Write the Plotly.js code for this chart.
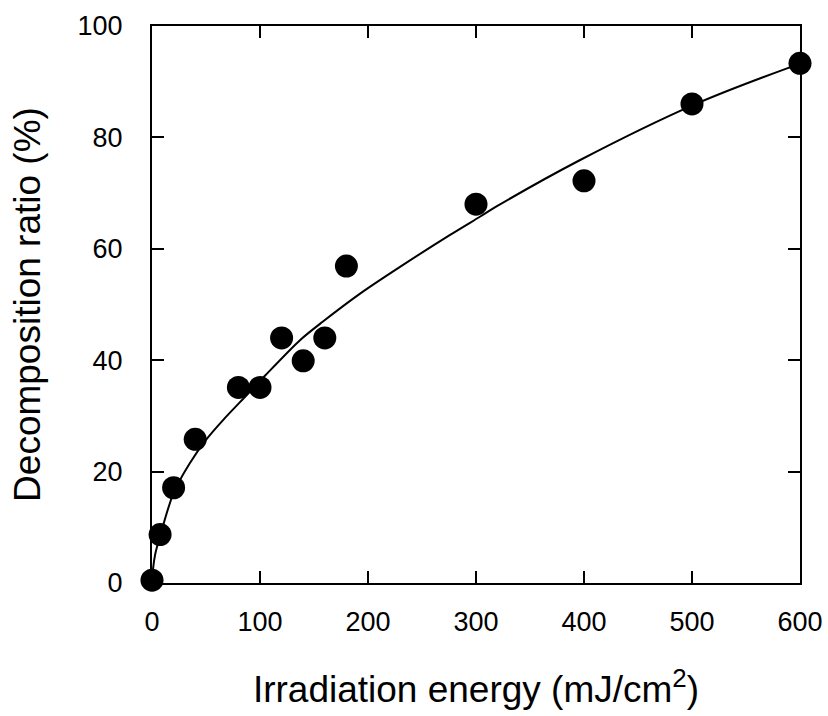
<!DOCTYPE html>
<html>
<head>
<meta charset="utf-8">
<script src="https://cdn.plot.ly/plotly-3.0.1.min.js"></script>
<style>
  html, body { margin: 0; padding: 0; background: #fff; }
  #chart { width: 828px; height: 716px; }
</style>
</head>
<body>
<div id="chart"></div>
<script>
// Measured data points
const energy = [0, 7.5, 20, 40, 80, 100, 120, 140, 160, 180, 300, 400, 500, 600];
const ratio  = [0.5, 8.7, 17.1, 25.8, 35.1, 35.1, 44.0, 39.9, 44.0, 56.9, 68.0, 72.2, 86.0, 93.3];

// Fitted curve
const fitX = [0, 1, 3, 8, 20, 35, 50, 66, 88, 105, 137, 158, 193, 230, 276, 304, 319, 396, 501, 588, 600];
const fitY = [0, 2.6, 5.2, 8.8, 16.2, 21.5, 25.7, 29.3, 33.8, 37.3, 43.6, 46.9, 52.0, 56.8, 62.5, 65.8, 67.6, 75.9, 85.8, 92.4, 93.2];

const xTicks = [0, 100, 200, 300, 400, 500, 600];
const yTicks = [0, 20, 40, 60, 80, 100];

const fontFam = '"Liberation Sans", Arial, Helvetica, sans-serif';

const traces = [
  {
    x: fitX, y: fitY, type: 'scatter', mode: 'lines',
    line: { color: '#000', width: 2, shape: 'spline', smoothing: 0.8 },
    hoverinfo: 'skip', cliponaxis: false
  },
  {
    x: energy, y: ratio, type: 'scatter', mode: 'markers',
    marker: { color: '#000', size: 23 },
    cliponaxis: false
  }
];

const axisCommon = {
  showgrid: false, zeroline: false,
  showline: true, linecolor: '#000', linewidth: 2,
  mirror: 'ticks', ticks: 'inside', ticklen: 12, tickwidth: 2, tickcolor: '#000',
  tickfont: { family: fontFam, size: 27, color: '#000' }
};

const layout = {
  width: 828, height: 716,
  margin: { l: 152, r: 28, t: 26, b: 133 },
  paper_bgcolor: '#fff', plot_bgcolor: '#fff',
  showlegend: false,
  font: { family: fontFam, color: '#000' },
  xaxis: Object.assign({}, axisCommon, {
    range: [0, 600], tickvals: xTicks, ticktext: xTicks.map(String),
    ticklabelstandoff: 14,
    title: { text: 'Irradiation energy (mJ/cm<sup>2</sup>)', font: { family: fontFam, size: 37, color: '#000' }, standoff: 40 }
  }),
  yaxis: Object.assign({}, axisCommon, {
    range: [0, 100], tickvals: yTicks, ticktext: yTicks.map(String),
    ticklabelstandoff: 22,
    title: { text: 'Decomposition ratio (%)', font: { family: fontFam, size: 37, color: '#000' }, standoff: 26 }
  })
};

Plotly.newPlot('chart', traces, layout, { displayModeBar: false, staticPlot: true });
</script>
</body>
</html>
